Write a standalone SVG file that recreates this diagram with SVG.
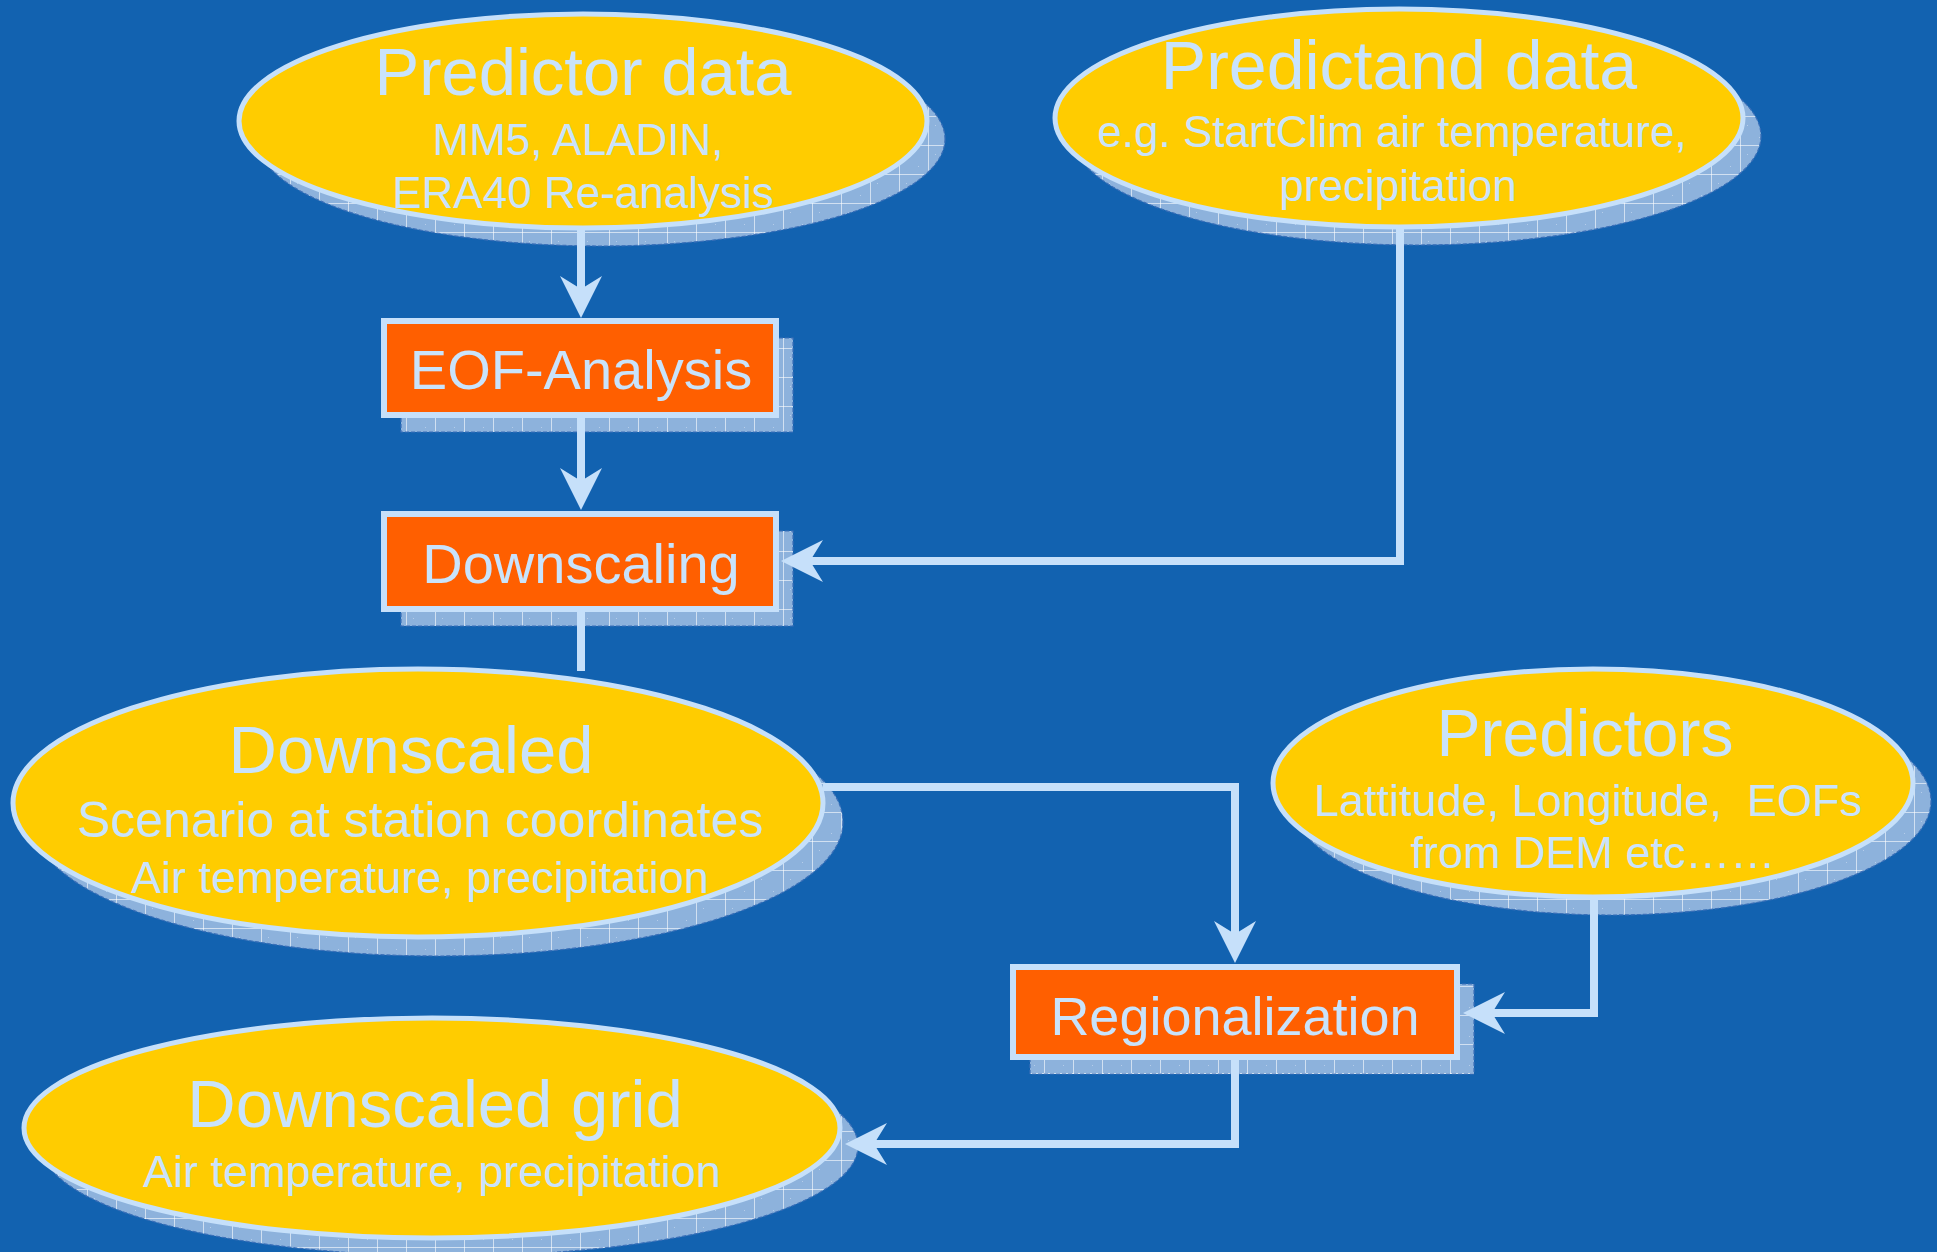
<svg xmlns="http://www.w3.org/2000/svg" width="1937" height="1252" viewBox="0 0 1937 1252">
<style>
.bg{fill:#1262B0}
.ell{fill:#FFCC00;stroke:#C6E0FA;stroke-width:5}
.box{fill:#FF5F00;stroke:#C6E0FA;stroke-width:6}
.shd{fill:url(#grid);stroke:#3A6FB8;stroke-width:1.2;stroke-dasharray:4 2}
.t{fill:#C9E3FB;font-family:"Liberation Sans",Arial,sans-serif;text-anchor:middle}
.con{fill:none;stroke:#C6E0FA;stroke-width:8}
</style>
<defs>
<pattern id="grid" width="29" height="29" patternUnits="userSpaceOnUse">
<rect width="29" height="29" fill="#8DB2DC"/>
<rect x="7" y="9" width="1" height="1" fill="#B5CDEA"/>
<rect x="19" y="21" width="1" height="1" fill="#B5CDEA"/>
<path d="M0,0.5H29M0.5,0V29" stroke="#FFFFFF" stroke-opacity="0.6" stroke-width="1"/>
</pattern>
<marker id="ah" markerUnits="userSpaceOnUse" markerWidth="60" markerHeight="60" viewBox="-30 -30 60 60" refX="0" refY="0" orient="auto" overflow="visible">
<path d="M20,0 L-22,-21 L-9,0 L-22,21 Z" fill="#C6E0FA"/>
</marker>
</defs>
<rect class="bg" x="0" y="0" width="1937" height="1252"/>

<g id="predictor-data">
<ellipse class="shd" cx="601" cy="139" rx="344" ry="107"/>
<ellipse class="ell" cx="583" cy="121" rx="344" ry="107"/>
<text class="t" x="583" y="95" font-size="67">Predictor data</text>
<text class="t" x="578" y="155" font-size="44">MM5, ALADIN,</text>
<text class="t" x="583" y="208" font-size="44">ERA40 Re-analysis</text>
</g>

<g id="predictand-data">
<ellipse class="shd" cx="1417" cy="136" rx="344" ry="109"/>
<ellipse class="ell" cx="1399" cy="118" rx="344" ry="109"/>
<text class="t" x="1399" y="89" font-size="68">Predictand data</text>
<text class="t" x="1392" y="147" font-size="44">e.g. StartClim air temperature,</text>
<text class="t" x="1398" y="201" font-size="44">precipitation</text>
</g>

<g id="eof-analysis">
<rect class="shd" x="401" y="338" width="392" height="94"/>
<rect class="box" x="384" y="321" width="392" height="94"/>
<text class="t" x="581" y="389" font-size="56">EOF-Analysis</text>
</g>

<g id="downscaling">
<rect class="shd" x="401" y="531" width="392" height="95"/>
<rect class="box" x="384" y="514" width="392" height="95"/>
<text class="t" x="581" y="583" font-size="56">Downscaling</text>
</g>

<g id="downscaled">
<ellipse class="shd" cx="438" cy="822" rx="405" ry="134"/>
<ellipse class="ell" cx="418" cy="803" rx="405" ry="134"/>
<text class="t" x="411" y="773" font-size="67">Downscaled</text>
<text class="t" x="420" y="837" font-size="50">Scenario at station coordinates</text>
<text class="t" x="420" y="893" font-size="45">Air temperature, precipitation</text>
</g>

<g id="predictors">
<ellipse class="shd" cx="1611" cy="801" rx="320" ry="114"/>
<ellipse class="ell" cx="1593" cy="783" rx="320" ry="114"/>
<text class="t" x="1585" y="756" font-size="66">Predictors</text>
<text class="t" x="1588" y="816" font-size="45" xml:space="preserve">Lattitude, Longitude,  EOFs</text>
<text class="t" x="1593" y="868" font-size="45">from DEM etc……</text>
</g>

<g id="regionalization">
<rect class="shd" x="1030" y="984" width="444" height="90"/>
<rect class="box" x="1013" y="967" width="444" height="90"/>
<text class="t" x="1235" y="1035" font-size="54">Regionalization</text>
</g>

<g id="downscaled-grid">
<ellipse class="shd" cx="450" cy="1146" rx="408" ry="110"/>
<ellipse class="ell" cx="432" cy="1128" rx="408" ry="110"/>
<text class="t" x="435" y="1127" font-size="67">Downscaled grid</text>
<text class="t" x="432" y="1187" font-size="45">Air temperature, precipitation</text>
</g>

<g id="connectors">
<path class="con" d="M581,229 L581,298" marker-end="url(#ah)"/>
<path class="con" d="M581,418 L581,490" marker-end="url(#ah)"/>
<path class="con" d="M1400,227 L1400,561 L801,561" marker-end="url(#ah)"/>
<path class="con" d="M581,612 L581,671"/>
<path class="con" d="M823,787 L1235,787 L1235,943" marker-end="url(#ah)"/>
<path class="con" d="M1594,897 L1594,1013 L1483,1013" marker-end="url(#ah)"/>
<path class="con" d="M1235,1060 L1235,1144 L865,1144" marker-end="url(#ah)"/>
</g>
</svg>
